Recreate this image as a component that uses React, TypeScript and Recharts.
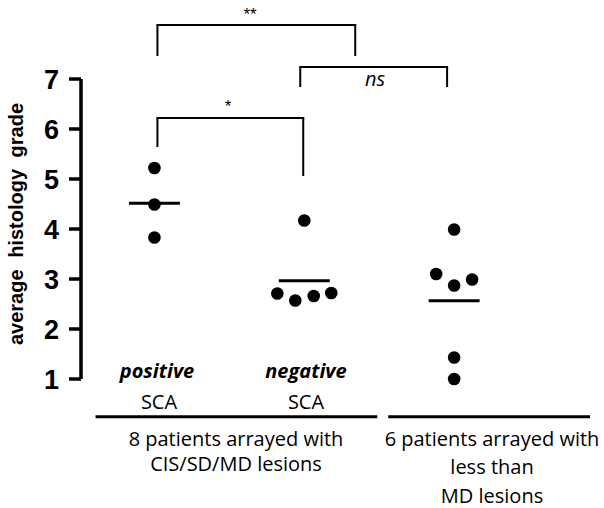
import { ScatterChart, Scatter, XAxis, YAxis, ReferenceLine } from 'recharts';

// grade values per group
const positiveSCA = [5.22, 4.49, 3.83];
const negativeSCA = [4.17, 2.71, 2.57, 2.66, 2.72];
const lessThanMD = [3.99, 3.1, 2.87, 2.99, 1.43, 1.0];

// horizontal spread of the dots inside each column (in group units)
const positiveJitter = [0, 0, 0];
const negativeJitter = [0, -0.18, -0.06, 0.063, 0.18];
const lessThanJitter = [0, -0.12, 0, 0.12, 0, 0];

const yTicks = [1, 2, 3, 4, 5, 6, 7];

// significance brackets: bar level, leg ends
const brackets = [
  { x1: 1.02, x2: 2.34, bar: 8.08, end1: 7.46, end2: 7.46 },
  { x1: 1.973, x2: 2.953, bar: 7.24, end1: 6.84, end2: 6.84 },
  { x1: 1.02, x2: 1.993, bar: 6.22, end1: 5.64, end2: 5.06 },
];

// underlines grouping the columns
const groupLines = [
  { x1: 0.607, x2: 2.487 },
  { x1: 2.56, x2: 3.907 },
];

const toPoints = (vals: number[], jitter: number[], pos: number) =>
  vals.map((y, i) => ({ x: pos + jitter[i], y }));

const mean = (vals: number[]) => vals.reduce((a, b) => a + b, 0) / vals.length;

const groups = [
  { pos: 1, vals: positiveSCA, jitter: positiveJitter },
  { pos: 2, vals: negativeSCA, jitter: negativeJitter },
  { pos: 3, vals: lessThanMD, jitter: lessThanJitter },
];

const Dot = (props: any) => <circle cx={props.cx} cy={props.cy} r={6.3} fill="#000" />;

const textFont = '"Open Sans", sans-serif';
const boldFont = '"Liberation Sans", Arial, sans-serif';

export default function App() {
  return (
    <div style={{ position: 'absolute', left: 0, top: 0, width: 604, height: 508, background: '#fff' }}>
      <ScatterChart width={604} height={508} margin={{ top: 79, right: 0, bottom: 129, left: 0 }}>
        <XAxis type="number" dataKey="x" domain={[0.51, 4.0]} hide />
        <YAxis
          type="number"
          dataKey="y"
          domain={[1, 7]}
          ticks={yTicks}
          width={81}
          tickSize={12}
          tickMargin={10}
          axisLine={{ stroke: '#000', strokeWidth: 3.5 }}
          tickLine={{ stroke: '#000', strokeWidth: 3.5 }}
          tick={{ fontSize: 27, fontWeight: 700, fill: '#000', fontFamily: boldFont }}
        />
        {groups.map((g, i) => (
          <Scatter
            key={'s' + i}
            data={toPoints(g.vals, g.jitter, g.pos)}
            shape={<Dot />}
            isAnimationActive={false}
          />
        ))}
        {groups.map((g, i) => (
          <ReferenceLine
            key={'m' + i}
            segment={[
              { x: g.pos - 0.17, y: mean(g.vals) },
              { x: g.pos + 0.17, y: mean(g.vals) },
            ]}
            stroke="#000"
            strokeWidth={3}
          />
        ))}
        {brackets.map((b, i) => [
          <ReferenceLine
            key={'bb' + i}
            segment={[{ x: b.x1, y: b.bar }, { x: b.x2, y: b.bar }]}
            stroke="#000"
            strokeWidth={2}
            strokeLinecap="square"
            ifOverflow="visible"
          />,
          <ReferenceLine
            key={'bl' + i}
            segment={[{ x: b.x1, y: b.bar }, { x: b.x1, y: b.end1 }]}
            stroke="#000"
            strokeWidth={2}
            ifOverflow="visible"
          />,
          <ReferenceLine
            key={'br' + i}
            segment={[{ x: b.x2, y: b.bar }, { x: b.x2, y: b.end2 }]}
            stroke="#000"
            strokeWidth={2}
            ifOverflow="visible"
          />,
        ])}
        {groupLines.map((l, i) => (
          <ReferenceLine
            key={'g' + i}
            segment={[{ x: l.x1, y: 0.246 }, { x: l.x2, y: 0.246 }]}
            stroke="#000"
            strokeWidth={3}
            ifOverflow="visible"
          />
        ))}
      </ScatterChart>
      <svg width={604} height={508} style={{ position: 'absolute', left: 0, top: 0, pointerEvents: 'none' }}>
        <text
          x={16}
          y={224}
          transform="rotate(-90 16 224)"
          textAnchor="middle"
          dominantBaseline="central"
          fontFamily={boldFont}
          fontWeight={700}
          fontSize={20}
          wordSpacing={6}
        >
          average histology grade
        </text>
        <g fontFamily={boldFont} textAnchor="middle" fill="#000" fontSize={17}>
          <text x={250} y={20}>**</text>
          <text x={228} y={112}>*</text>
        </g>
        <g fontFamily={textFont} textAnchor="middle" fill="#000" fontSize={20}>
          <text x={375} y={86} fontStyle="italic">ns</text>
          <text x={157} y={378} fontStyle="italic" fontWeight={700}>positive</text>
          <text x={306} y={378} fontStyle="italic" fontWeight={700}>negative</text>
          <text x={159} y={409}>SCA</text>
          <text x={306} y={409}>SCA</text>
          <text x={236} y={446}>8 patients arrayed with</text>
          <text x={236} y={471}>CIS/SD/MD lesions</text>
          <text x={492} y={446}>6 patients arrayed with</text>
          <text x={492} y={474}>less than</text>
          <text x={492} y={503}>MD lesions</text>
        </g>
      </svg>
    </div>
  );
}
